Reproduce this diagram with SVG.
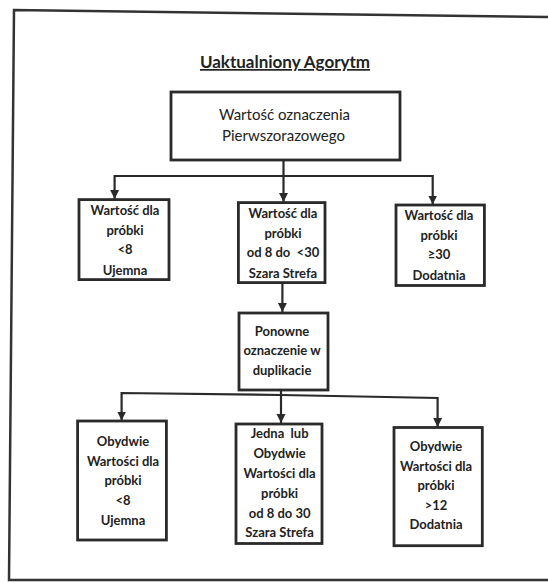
<svg xmlns="http://www.w3.org/2000/svg" width="548" height="583" viewBox="0 0 548 583">
<style>
.frame{fill:none;stroke:#333;stroke-width:2.5}
.box{fill:#fff;stroke:#2a2a2a;stroke-width:2.8}
.conn{fill:none;stroke:#2a2a2a;stroke-width:2.2}
.t{font-family:Lato,"Liberation Sans",sans-serif;fill:#222;text-anchor:middle}
.b{font-size:13px;font-weight:700}
.m{font-size:15px;font-weight:400}
.title{font-size:17px;font-weight:700;text-decoration:underline}
</style>
<defs>
<marker id="ah" viewBox="0 0 10 10" refX="10" refY="5" markerWidth="9" markerHeight="10" markerUnits="userSpaceOnUse" orient="auto">
<path d="M0,0 L10,5 L0,10 z" fill="#2a2a2a"/>
</marker>
</defs>
<rect width="548" height="583" fill="#fff"/>
<path class="frame" d="M548,17 L14,10 L9,580 L548,580"/>
<text class="t title" x="285" y="68">Uaktualniony Agorytm</text>

<g id="connectors">
<path class="conn" d="M283.5,160 V202" marker-end="url(#ah)"/>
<path class="conn" d="M283.5,176 H114.6 V199" marker-end="url(#ah)"/>
<path class="conn" d="M283.5,176 H432.7 V204.5" marker-end="url(#ah)"/>
<path class="conn" d="M282.4,282.5 V312" marker-end="url(#ah)"/>
<path class="conn" d="M281,390 V423" marker-end="url(#ah)"/>
<path class="conn" d="M281,395 L121.6,393 V420.5" marker-end="url(#ah)"/>
<path class="conn" d="M281,395 L437.6,398 V427" marker-end="url(#ah)"/>
</g>

<g id="n-top">
<rect class="box" x="171" y="92" width="229" height="68"/>
<text class="t m" x="284.5" y="120">Wartość oznaczenia</text>
<text class="t m" x="283.5" y="141">Pierwszorazowego</text>
</g>

<g id="n-left">
<rect class="box" x="79" y="199.6" width="90" height="80"/>
<text class="t b" x="125" y="215">Wartość dla</text>
<text class="t b" x="125" y="235">próbki</text>
<text class="t b" x="125" y="254">&lt;8</text>
<text class="t b" x="125" y="275">Ujemna</text>
</g>

<g id="n-mid">
<rect class="box" x="238.4" y="202.6" width="86.6" height="80"/>
<text class="t b" x="283" y="217.5">Wartość dla</text>
<text class="t b" x="283" y="237.5">próbki</text>
<text class="t b" x="283" y="256.5" xml:space="preserve">od 8 do  &lt;30</text>
<text class="t b" x="283" y="277.5">Szara Strefa</text>
</g>

<g id="n-right">
<rect class="box" x="396" y="205" width="88.4" height="80.5"/>
<text class="t b" x="439" y="219.5">Wartość dla</text>
<text class="t b" x="439" y="239.5">próbki</text>
<text class="t b" x="439" y="259">≥30</text>
<text class="t b" x="439" y="279.5">Dodatnia</text>
</g>

<g id="n-retest">
<rect class="box" x="239" y="313" width="89" height="77"/>
<text class="t b" x="282" y="335.5">Ponowne</text>
<text class="t b" x="282" y="354.5">oznaczenie w</text>
<text class="t b" x="282" y="374.5">duplikacie</text>
</g>

<g id="n-bl">
<rect class="box" x="77.6" y="421" width="88.8" height="119"/>
<text class="t b" x="123" y="446">Obydwie</text>
<text class="t b" x="123" y="465.5">Wartości dla</text>
<text class="t b" x="123" y="484.5">próbki</text>
<text class="t b" x="123" y="504.5">&lt;8</text>
<text class="t b" x="123" y="525">Ujemna</text>
</g>

<g id="n-bm">
<rect class="box" x="236" y="424" width="86" height="119.5"/>
<text class="t b" x="279.6" y="437.5" xml:space="preserve">Jedna  lub</text>
<text class="t b" x="279.6" y="458">Obydwie</text>
<text class="t b" x="279.6" y="477.5">Wartości dla</text>
<text class="t b" x="279.6" y="498">próbki</text>
<text class="t b" x="279.6" y="517.5">od 8 do 30</text>
<text class="t b" x="279.6" y="537">Szara Strefa</text>
</g>

<g id="n-br">
<rect class="box" x="394" y="427.5" width="88.3" height="118.2"/>
<text class="t b" x="436" y="450.5">Obydwie</text>
<text class="t b" x="436" y="471">Wartości dla</text>
<text class="t b" x="436" y="489.5">próbki</text>
<text class="t b" x="436" y="509.5">&gt;12</text>
<text class="t b" x="436" y="528.5">Dodatnia</text>
</g>
</svg>
